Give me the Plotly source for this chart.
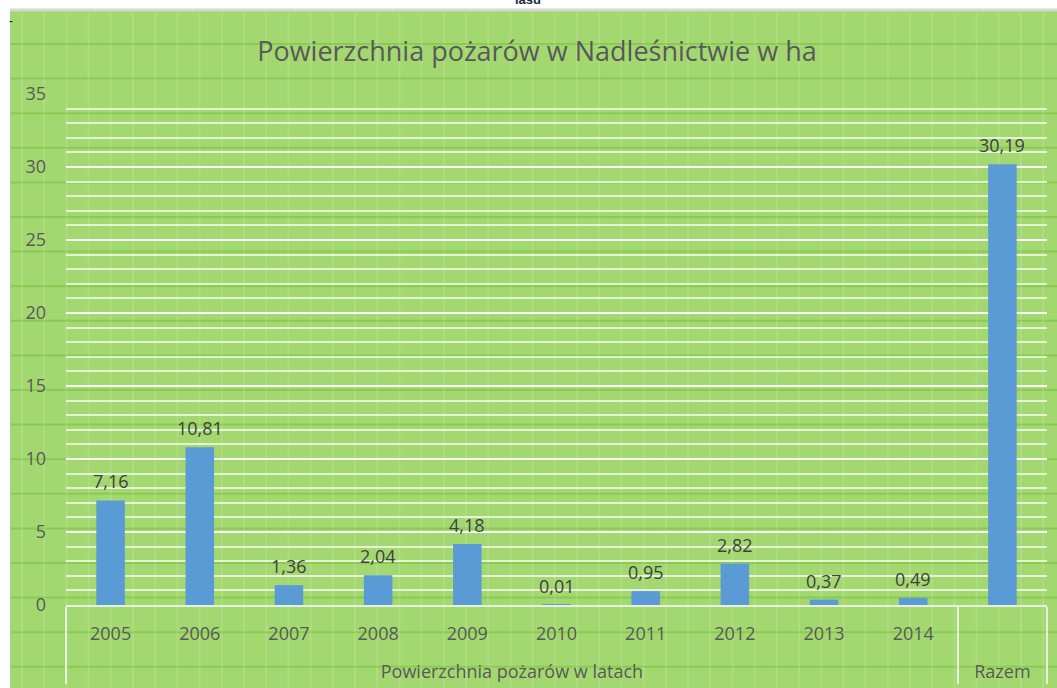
import plotly.graph_objects as go

# Fire area per year (ha) and the total
years = ["2005", "2006", "2007", "2008", "2009", "2010", "2011", "2012", "2013", "2014"]
areas = [7.16, 10.81, 1.36, 2.04, 4.18, 0.01, 0.95, 2.82, 0.37, 0.49]
group_label = "Powierzchnia pożarów w latach"
total_label = "Razem"
total_value = 30.19
title_text = "Powierzchnia pożarów w Nadleśnictwie w ha"
y_ticks = [0, 5, 10, 15, 20, 25, 30, 35]

W, H = 1057, 688
M_L, M_R, M_T, M_B = 66, 10, 94, 83
PW, PH = W - M_L - M_R, H - M_T - M_B


def px_x(px):
    return (px - M_L) / PW


def px_y(py):
    return (H - M_B - py) / PH


# outer level sits one blank line lower than the years row
outer = ["<br>" + group_label] * len(years) + ["<br>" + total_label]
inner = years + [""]
values = areas + [total_value]
labels = [f"{v:.2f}".replace(".", ",") for v in values]

BAR = "#5b9bd5"
GREEN = "#a3d870"
TEXT = "#595959"
FONT = "Open Sans"

fig = go.Figure(
    go.Bar(
        x=[outer, inner],
        y=values,
        marker=dict(color=BAR, line=dict(width=0)),
        width=0.32,
        hoverinfo="skip",
    )
)

shapes = [
    # chart area fill
    dict(type="rect", xref="paper", yref="paper", layer="below",
         x0=px_x(10), x1=px_x(W + 5), y0=px_y(H + 5), y1=px_y(11),
         fillcolor=GREEN, line=dict(width=0)),
    # thin grey rule along the top edge
    dict(type="line", xref="paper", yref="paper", layer="below",
         x0=px_x(10), x1=px_x(W + 5), y0=px_y(10), y1=px_y(10),
         line=dict(color="#d6d6d6", width=3)),
]

# woven texture of the green fill: darker horizontal bands, light vertical threads
yy = 44.0
while yy < H:
    shapes.append(dict(type="line", xref="paper", yref="paper", layer="below",
                       x0=px_x(11), x1=px_x(W + 5), y0=px_y(yy), y1=px_y(yy),
                       line=dict(color="rgba(120,195,60,0.6)", width=2)))
    yy += 34.6
xx = 22.0
while xx < W:
    shapes.append(dict(type="line", xref="paper", yref="paper", layer="below",
                       x0=px_x(xx), x1=px_x(xx), y0=px_y(H + 5), y1=px_y(13),
                       line=dict(color="rgba(255,255,255,0.12)", width=2)))
    xx += 22.2

annotations = []
for i, (v, t) in enumerate(zip(values, labels)):
    annotations.append(dict(x=i, y=v, xref="x", yref="y", text=t, showarrow=False,
                            yanchor="bottom", yshift=5,
                            font=dict(family=FONT, size=18, color="#404040")))

# heading of the page above the chart, cut by the top edge
annotations.append(dict(x=px_x(528), y=1, xref="paper", yref="paper", text="<b>lasu</b>",
                        showarrow=False, yanchor="middle", yshift=M_T + 1,
                        xanchor="center", font=dict(family="Liberation Sans", size=13, color="#1f2a44")))
annotations.append(dict(x=px_x(7), y=px_y(12), xref="paper", yref="paper", text="-",
                        showarrow=False, font=dict(family="Liberation Sans", size=12, color="#222")))

fig.update_layout(
    width=W, height=H,
    margin=dict(l=M_L, r=M_R, t=M_T, b=M_B),
    paper_bgcolor="white",
    plot_bgcolor="rgba(0,0,0,0)",
    title=dict(text=title_text, x=537 / W, xanchor="center", y=1 - 52 / H, yanchor="middle",
               font=dict(family=FONT, size=27, color=TEXT)),
    shapes=shapes,
    annotations=annotations,
    showlegend=False,
    bargap=0.68,
    xaxis=dict(
        type="multicategory",
        automargin=False,
        showline=True, linecolor="rgba(235,240,230,0.95)", linewidth=2,
        showgrid=False, ticks="",
        showdividers=True, dividercolor="rgba(235,240,230,0.95)", dividerwidth=2,
        ticklabelstandoff=11,
        tickfont=dict(family=FONT, size=18, color=TEXT),
    ),
    yaxis=dict(
        range=[0, 35],
        automargin=False,
        tickvals=y_ticks,
        showgrid=True, gridcolor="rgba(255,255,255,0.85)", gridwidth=2,
        minor=dict(dtick=1, showgrid=True, gridcolor="rgba(255,255,255,0.7)", gridwidth=2),
        zeroline=False, showline=False, ticks="",
        ticklabelstandoff=19,
        tickfont=dict(family=FONT, size=18, color=TEXT),
    ),
)

fig.write_html("out.html")
